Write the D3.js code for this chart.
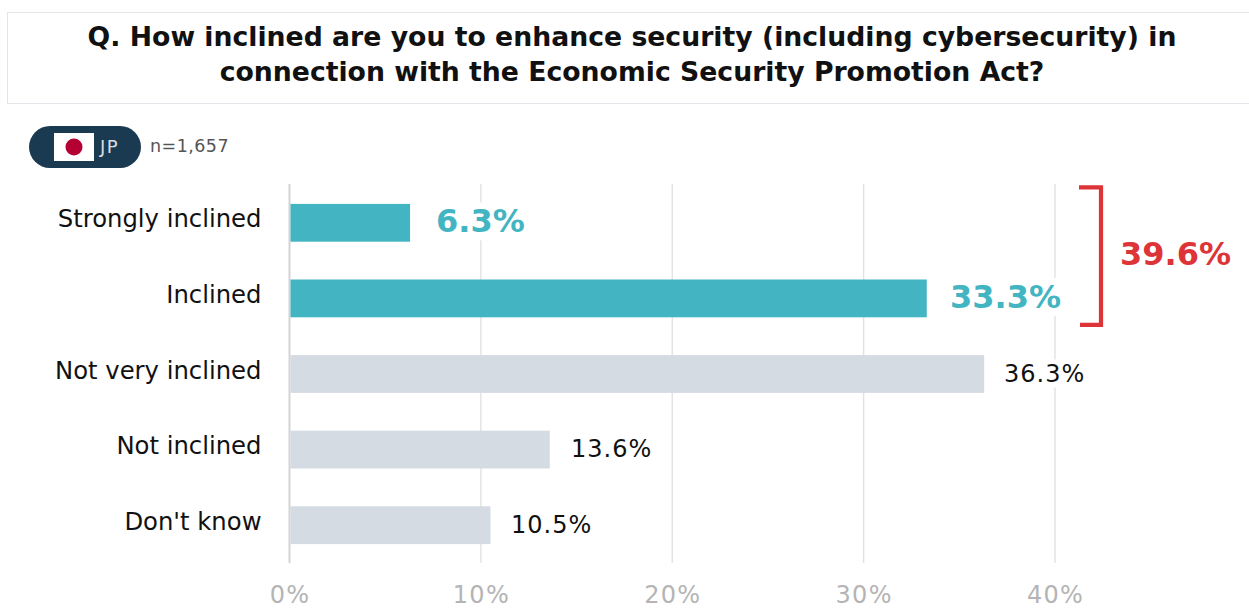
<!DOCTYPE html>
<html>
<head>
<meta charset="utf-8">
<script src="https://cdn.jsdelivr.net/npm/d3@7"></script>
<style>
html,body{margin:0;padding:0;background:#fff;overflow:hidden}
text{font-family:"DejaVu Sans",sans-serif}
</style>
</head>
<body>
<div id="chart"></div>
<script>
const categories = ["Strongly inclined", "Inclined", "Not very inclined", "Not inclined", "Don't know"];
const values = [6.3, 33.3, 36.3, 13.6, 10.5];
const highlighted = ["Strongly inclined", "Inclined"];
const xTicks = [0, 10, 20, 30, 40];
const titleLines = [
  "Q. How inclined are you to enhance security (including cybersecurity) in",
  "connection with the Economic Security Promotion Act?"
];
const combinedTotal = "39.6%";
const sampleSize = "n=1,657";
const countryCode = "JP";

const W = 1249, H = 609;
const svg = d3.select("#chart").append("svg").attr("width", W).attr("height", H).style("display", "block");

// Title box
svg.append("rect").attr("x", 7.5).attr("y", 12.5).attr("width", 1250).attr("height", 91)
  .attr("fill", "#fff").attr("stroke", "#e3e5ea");
svg.append("g").selectAll("text").data(titleLines).join("text")
  .attr("x", 632).attr("y", (d, i) => 46 + i * 35)
  .attr("text-anchor", "middle").attr("font-size", 26.7).attr("font-weight", 700)
  .attr("fill", "#111").text(d => d);

// Country badge
svg.append("rect").attr("x", 29).attr("y", 126).attr("width", 112).attr("height", 42).attr("rx", 21).attr("fill", "#193a50");
svg.append("rect").attr("x", 54).attr("y", 133).attr("width", 40).attr("height", 28).attr("fill", "#fff");
svg.append("circle").attr("cx", 74).attr("cy", 147).attr("r", 8.5).attr("fill", "#b50033");
svg.append("text").attr("x", 100).attr("y", 153).attr("font-size", 18).attr("letter-spacing", 1.5).attr("fill", "#d8dde2").text(countryCode);
svg.append("text").attr("x", 150).attr("y", 152).attr("font-size", 17.5).attr("letter-spacing", 0.45).attr("fill", "#555").text(sampleSize);

// Scales
const x = d3.scaleLinear().domain([0, 40]).range([289.5, 1055]);
const y = d3.scaleBand().domain(categories).range([185, 563]).paddingInner(0.5).paddingOuter(0.25);

// Grid lines and percentage axis
const axis = d3.axisBottom(x).tickValues(xTicks).tickSize(0).tickFormat(d => d + "%");
const gAxis = svg.append("g").attr("transform", "translate(0,603)").call(axis);
gAxis.select(".domain").remove();
gAxis.selectAll("text").attr("y", 0).attr("dy", 0).attr("font-size", 24).attr("letter-spacing", 1.3).attr("fill", "#b4b4b4")
  .style("font-family", '"DejaVu Sans",sans-serif');

svg.append("g").selectAll("line").data(xTicks).join("line")
  .attr("x1", d => x(d)).attr("x2", d => x(d))
  .attr("y1", 184).attr("y2", 563)
  .attr("stroke", d => d === 0 ? "#d4d4d4" : "#e2e2e2")
  .attr("stroke-width", d => d === 0 ? 2 : 1.4);

// Bars
const isHigh = d => highlighted.includes(d);
const rows = categories.map((c, i) => ({ c, v: values[i] }));
svg.append("g").selectAll("rect").data(rows).join("rect")
  .attr("x", x(0) + 1).attr("y", d => y(d.c))
  .attr("width", d => x(d.v) - x(0) - 1).attr("height", y.bandwidth())
  .attr("fill", d => isHigh(d.c) ? "#43b5c2" : "#d5dbe2");

// Category labels
svg.append("g").selectAll("text").data(rows).join("text")
  .attr("x", 261.5).attr("y", d => y(d.c) + y.bandwidth() / 2 + 4.5)
  .attr("text-anchor", "end").attr("font-size", 24.3).attr("fill", "#111").text(d => d.c);

// Value labels; each sits on a white plate that interrupts the grid lines
const labelLeft = { "Strongly inclined": 436, "Inclined": 950, "Not very inclined": 1004, "Not inclined": 571, "Don't know": 511 };
const labels = svg.append("g").selectAll("g").data(rows).join("g");
labels.append("text")
  .attr("x", d => labelLeft[d.c])
  .attr("y", d => y(d.c) + y.bandwidth() / 2 + (isHigh(d.c) ? 9.5 : 7.5))
  .attr("font-size", d => isHigh(d.c) ? 32 : 24)
  .attr("font-weight", d => isHigh(d.c) ? 700 : 400)
  .attr("letter-spacing", d => isHigh(d.c) ? 0 : 1)
  .attr("fill", d => isHigh(d.c) ? "#43b5c2" : "#111")
  .text(d => d.v.toFixed(1) + "%");
labels.each(function () {
  const t = d3.select(this).select("text");
  const b = t.node().getBBox();
  d3.select(this).insert("rect", "text")
    .attr("x", b.x).attr("y", b.y).attr("width", b.width).attr("height", b.height).attr("fill", "#fff");
});

// Bracket grouping the two inclined answers
const bracketTop = y(categories[0]) - 16.5, bracketBottom = y(categories[1]) + y.bandwidth() + 7.5;
svg.append("path")
  .attr("d", d3.line()([[1079, bracketTop], [1101, bracketTop], [1101, bracketBottom], [1080, bracketBottom]]))
  .attr("fill", "none").attr("stroke", "#dc3437").attr("stroke-width", 4.2);
svg.append("text").attr("x", 1120).attr("y", 265).attr("font-size", 32).attr("font-weight", 700)
  .attr("fill", "#dc3437").text(combinedTotal);
</script>
</body>
</html>
